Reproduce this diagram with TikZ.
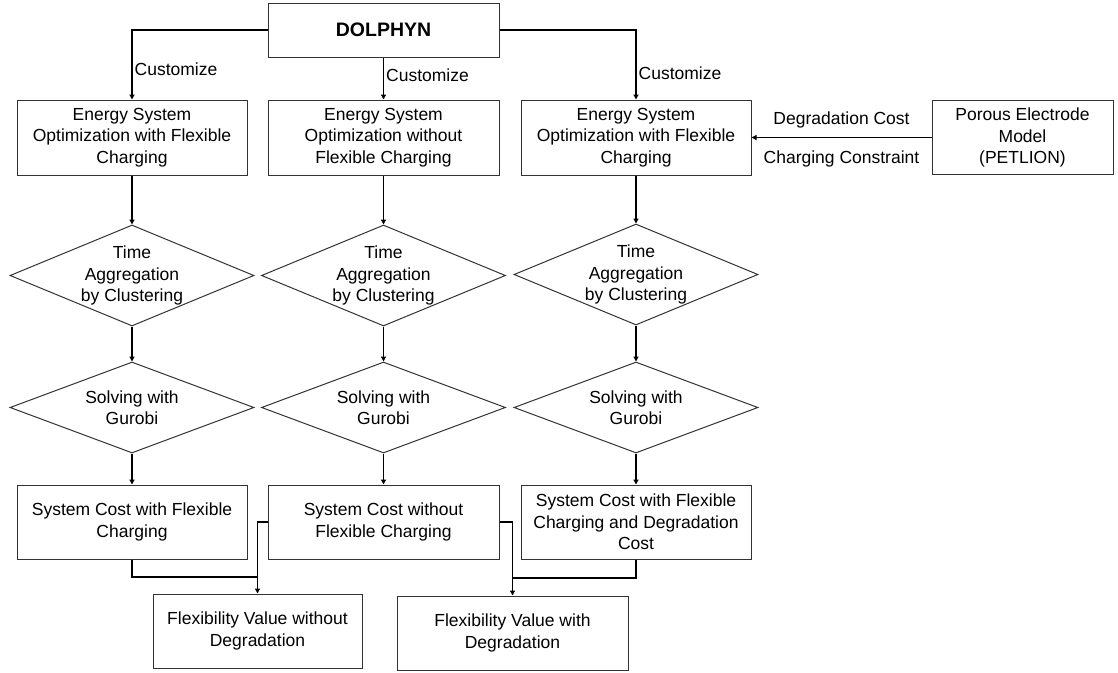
\documentclass[tikz,border=0pt]{standalone}
\usepackage{fontspec}
\setmainfont{Liberation Sans}
\usepackage{tikz}
\usetikzlibrary{shapes.geometric}
\usetikzlibrary{arrows.meta}

\begin{document}
\begin{tikzpicture}[x=1pt,y=-1pt,
		box/.style={rectangle,draw=black!80,line width=1pt,align=center,inner sep=2pt,font=\fontsize{17.5}{21.5}\selectfont},
		dia/.style={diamond,draw=black!80,line width=1pt,inner sep=0pt,minimum width=244pt},
		txt/.style={font=\fontsize{17.5}{21.5}\selectfont,inner sep=2pt,align=center},
		arr/.style={line width=1.3pt,-{Triangle[length=5pt,width=5pt]}},
		wire/.style={line width=1.3pt}]
			
			\useasboundingbox (0,0) rectangle (1118,672);
			
			\node[box,minimum width=231pt,minimum height=54pt,font=\fontsize{19.5}{23}\bfseries\selectfont] (D) at (383.5,30) {DOLPHYN};
			
			\node[box,minimum width=230pt,minimum height=75pt] (O1) at (132,137.5) {Energy System\\Optimization with Flexible\\Charging};
			\node[box,minimum width=231pt,minimum height=75pt] (O2) at (383.5,137.5) {Energy System\\Optimization without\\Flexible Charging};
			\node[box,minimum width=230pt,minimum height=75pt] (O3) at (636,137.5) {Energy System\\Optimization with Flexible\\Charging};
			\node[box,minimum width=181pt,minimum height=74pt] (P) at (1022.5,137.5) {Porous Electrode\\Model\\(PETLION)};
			
			\draw[arr] (D.west) -| (O1.north) node[txt,pos=0.785,anchor=west] {Customize};
			\draw[arr] (D.south) -- (O2.north) node[txt,pos=0.42,anchor=west] {Customize};
			\draw[arr] (D.east) -| (O3.north) node[txt,pos=0.81,anchor=west] {Customize};
			\draw[arr] (P.west) -- (O3.east) node[txt,midway,above=7pt] {Degradation Cost} node[txt,midway,below=11pt] {Charging Constraint};
			
			\node[dia,minimum height=101pt,label={[txt]center:Time\\Aggregation\\by Clustering}] (A1) at (132,275.5) {};
			\node[dia,minimum height=101pt,label={[txt]center:Time\\Aggregation\\by Clustering}] (A2) at (383.5,275.5) {};
			\node[dia,minimum height=101pt,label={[txt]center:Time\\Aggregation\\by Clustering}] (A3) at (636,274.5) {};
			
			\node[dia,minimum height=91pt,label={[txt]center:Solving with\\Gurobi}] (S1) at (132,407.5) {};
			\node[dia,minimum height=91pt,label={[txt]center:Solving with\\Gurobi}] (S2) at (383.5,407.5) {};
			\node[dia,minimum height=91pt,label={[txt]center:Solving with\\Gurobi}] (S3) at (636,407.5) {};
			
			\node[box,minimum width=230pt,minimum height=74pt] (C1) at (132,522) {System Cost with Flexible\\Charging};
			\node[box,minimum width=231pt,minimum height=74pt] (C2) at (383.5,522) {System Cost without\\Flexible Charging};
			\node[box,minimum width=230pt,minimum height=74pt] (C3) at (636,522) {System Cost with Flexible\\Charging and Degradation\\Cost};
			
			\node[box,minimum width=209pt,minimum height=74pt] (F1) at (257.5,631) {Flexibility Value without\\Degradation};
			\node[box,minimum width=231pt,minimum height=74pt] (F2) at (512.5,633) {Flexibility Value with\\Degradation};
			
			\draw[arr] (O1) -- (A1);
			\draw[arr] (O2) -- (A2);
			\draw[arr] (O3) -- (A3);
			
			\draw[arr] (A1) -- (S1);
			\draw[arr] (A2) -- (S2);
			\draw[arr] (A3) -- (S3);
			
			\draw[arr] (S1) -- (C1);
			\draw[arr] (S2) -- (C2);
			\draw[arr] (S3) -- (C3);
			
			\coordinate (M1) at (257.5,577);
			\coordinate (M2) at (512.5,578);
			
			\draw[wire] (C1.south) |- (M1);
			\draw[arr] (C2.west) -| (F1.north);
			\draw[wire] (C3.south) |- (M2);
			\draw[arr] (C2.east) -| (F2.north);
			
		\end{tikzpicture}
\end{document}
